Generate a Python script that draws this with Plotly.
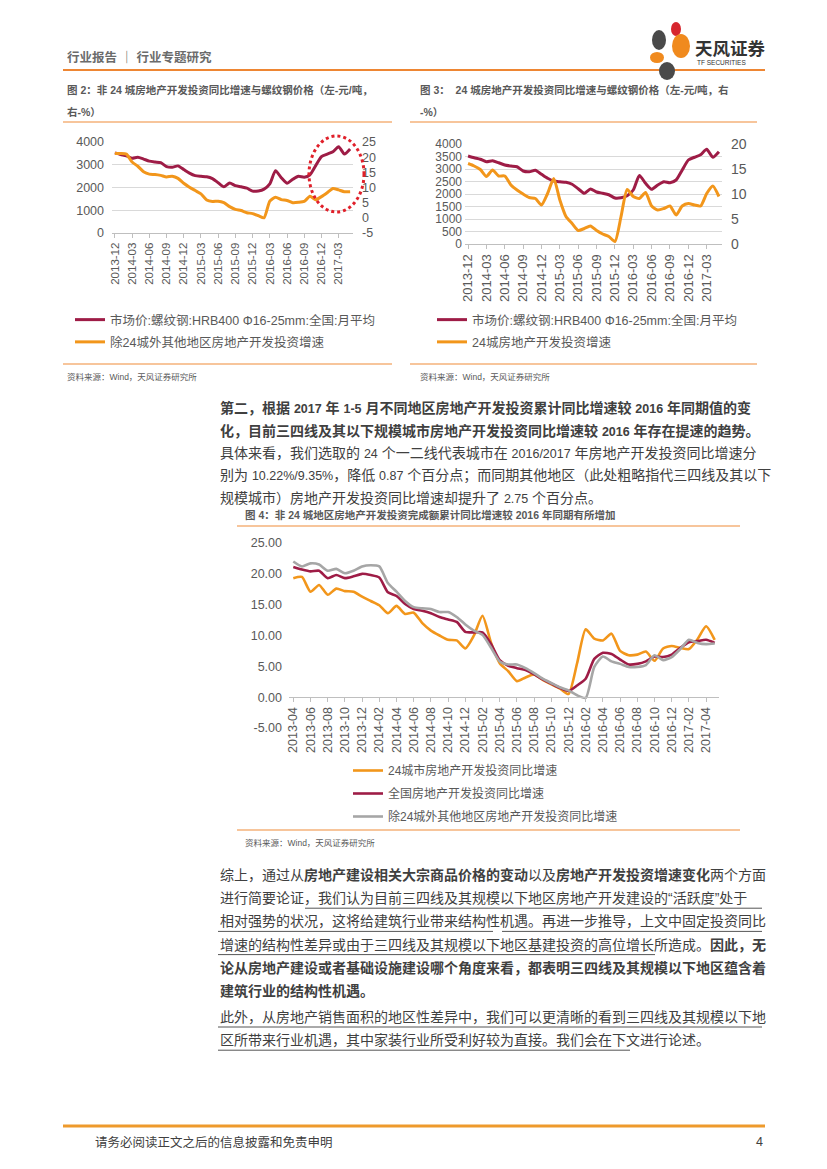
import re
import plotly.graph_objects as go

W, H = 827, 1169
OFF = 8  # the page body margin shifts the figure by 8px
def fx(x): return (x - OFF) / W
def fy(y): return 1 - (y - OFF) / H

# ---------------- data: charts 2 & 3 (monthly 2013-12 .. 2017-05) ----------------
months_a = ['2013-12',
            '2014-01','2014-02','2014-03','2014-04','2014-05','2014-06','2014-07','2014-08','2014-09','2014-10','2014-11','2014-12',
            '2015-01','2015-02','2015-03','2015-04','2015-05','2015-06','2015-07','2015-08','2015-09','2015-10','2015-11','2015-12',
            '2016-01','2016-02','2016-03','2016-04','2016-05','2016-06','2016-07','2016-08','2016-09','2016-10','2016-11','2016-12',
            '2017-01','2017-02','2017-03','2017-04','2017-05']
ticks_a = ['2013-12','2014-03','2014-06','2014-09','2014-12','2015-03','2015-06','2015-09',
           '2015-12','2016-03','2016-06','2016-09','2016-12','2017-03']
steel_price = [3520, 3450, 3390, 3290, 3330, 3250, 3160, 3120, 3090, 2920, 2890, 2950, 2790,
               2630, 2520, 2490, 2470, 2390, 2210, 2030, 2200, 2080, 2030, 1970, 1840,
               1850, 1930, 2160, 2740, 2430, 2190, 2360, 2490, 2450, 2560, 2960, 3360,
               3470, 3570, 3790, 3470, 3690]
other_growth_a = [21.2, 21.2, 21.0, 18.4, 17.0, 15.2, 14.4, 14.3, 14.0, 13.5, 13.7, 13.0, 11.4,
                  10.1, 9.0, 7.9, 5.9, 5.4, 5.5, 5.0, 3.7, 2.8, 2.4, 1.7, 1.4,
                  0.7, 0.0, 5.5, 6.8, 6.0, 5.7, 5.0, 5.1, 5.4, 7.1, 6.0, 7.0,
                  8.3, 9.7, 9.2, 8.6, 8.6]
city24_growth_a = [16.1, 15.6, 14.9, 13.5, 14.8, 13.6, 13.6, 11.8, 10.8, 10.0, 9.3, 9.1, 7.8,
                   10.1, 13.1, 8.8, 5.5, 4.1, 2.7, 3.1, 3.6, 2.7, 2.0, 1.5, 0.5,
                   5.5, 10.9, 9.5, 9.1, 10.3, 7.6, 6.8, 7.1, 7.6, 5.8, 7.6, 8.1,
                   7.8, 7.6, 10.1, 11.6, 9.5]

# ---------------- data: chart 4 (monthly 2013-04 .. 2017-05) ----------------
months_b = ['2013-04','2013-05','2013-06','2013-07','2013-08','2013-09','2013-10','2013-11','2013-12',
            '2014-01','2014-02','2014-03','2014-04','2014-05','2014-06','2014-07','2014-08','2014-09','2014-10','2014-11','2014-12',
            '2015-01','2015-02','2015-03','2015-04','2015-05','2015-06','2015-07','2015-08','2015-09','2015-10','2015-11','2015-12',
            '2016-01','2016-02','2016-03','2016-04','2016-05','2016-06','2016-07','2016-08','2016-09','2016-10','2016-11','2016-12',
            '2017-01','2017-02','2017-03','2017-04','2017-05']
ticks_b = ['2013-04','2013-06','2013-08','2013-10','2013-12','2014-02','2014-04','2014-06','2014-08',
           '2014-10','2014-12','2015-02','2015-04','2015-06','2015-08','2015-10','2015-12','2016-02',
           '2016-04','2016-06','2016-08','2016-10','2016-12','2017-02','2017-04']
city24_growth_b = [19.3, 19.5, 17.1, 18.2, 16.6, 17.6, 17.2, 17.1, 16.3,
                   15.6, 14.9, 13.6, 14.8, 13.5, 13.7, 12.0, 10.8, 10.0, 9.3, 9.2, 7.9,
                   10.0, 13.2, 8.8, 5.5, 4.2, 2.6, 3.2, 3.7, 2.8, 2.1, 1.4, 0.5,
                   5.5, 11.0, 9.5, 9.2, 10.3, 7.5, 6.8, 6.9, 7.4, 5.9, 7.9, 8.3,
                   8.0, 7.8, 9.4, 11.5, 9.3]
national_growth = [21.1, 20.7, 20.4, 20.5, 19.3, 19.8, 19.3, 19.6, 20.0,
                   19.8, 19.4, 17.0, 16.4, 15.1, 14.3, 14.0, 13.6, 13.0, 12.6, 12.2, 10.6,
                   10.5, 10.5, 8.6, 6.0, 5.1, 4.7, 4.4, 3.7, 2.9, 2.2, 1.5, 1.0,
                   1.9, 3.0, 6.2, 7.2, 7.0, 6.1, 5.3, 5.4, 5.8, 6.6, 6.5, 6.9,
                   8.0, 8.9, 9.1, 9.3, 8.8]
other_growth_b = [22.0, 21.2, 21.7, 21.5, 20.5, 20.8, 20.1, 20.5, 21.2,
                  21.4, 21.2, 18.5, 17.1, 15.6, 14.6, 14.4, 14.3, 13.8, 13.8, 13.0, 11.8,
                  10.8, 10.1, 8.0, 5.8, 5.3, 5.3, 4.7, 3.9, 3.0, 2.3, 1.6, 1.1,
                  0.3, -0.1, 4.9, 6.6, 5.8, 5.4, 4.9, 4.9, 5.2, 6.8, 6.0, 6.5,
                  7.8, 9.3, 8.8, 8.6, 8.7]

name_steel = '市场价:螺纹钢:HRB400 Φ16-25mm:全国:月平均'
name_other_a = '除24城外其他地区房地产开发投资增速'
name_city24_a = '24城房地产开发投资增速'
name_city24_b = '24城市房地产开发投资同比增速'
name_national = '全国房地产开发投资同比增速'
name_other_b = '除24城外其他地区房地产开发投资同比增速'

MAROON = '#9E1C46'
ORANGE = '#F2961B'
GRAYL = '#A6A6A6'
TXT = '#595959'
LORANGE = '#F5B27A'
NUM_FONT = 'Liberation Sans, Arial, sans-serif'
CJK = 'Liberation Sans, Noto Sans CJK SC, sans-serif'

fig = go.Figure()
def line(xs, ys, name, color, width, xa, ya, lg, grp):
    fig.add_trace(go.Scatter(x=xs, y=ys, name=name, mode='lines', legendgroup=grp,
                             line=dict(color=color, width=width, shape='spline', smoothing=0.6),
                             xaxis=xa, yaxis=ya, legend=lg))

line(months_a, steel_price, name_steel, MAROON, 3, 'x', 'y', 'legend', 'a1')
line(months_a, other_growth_a, name_other_a, ORANGE, 3, 'x', 'y2', 'legend', 'a2')
line(months_a, steel_price, name_steel, MAROON, 3, 'x2', 'y3', 'legend2', 'b1')
line(months_a, city24_growth_a, name_city24_a, ORANGE, 3, 'x2', 'y4', 'legend2', 'b2')
line(months_b, city24_growth_b, name_city24_b, ORANGE, 2.6, 'x3', 'y5', 'legend3', 'c1')
line(months_b, national_growth, name_national, MAROON, 2.6, 'x3', 'y5', 'legend3', 'c2')
line(months_b, other_growth_b, name_other_b, GRAYL, 2.6, 'x3', 'y5', 'legend3', 'c3')

def xax(domain, ticks, n, size, **kw):
    d = dict(domain=domain, type='category', range=[-0.5, n - 0.5], tickmode='array',
             tickvals=ticks, ticktext=ticks, tickangle=-90, ticks='outside', ticklen=4,
             tickcolor='#BFBFBF', showline=True, linecolor='#BFBFBF', linewidth=1,
             showgrid=False, zeroline=False, automargin=False,
             tickfont=dict(family=NUM_FONT, size=size, color=TXT))
    d.update(kw)
    return d

def yax(domain, rng, vals, texts, size, grid, **kw):
    d = dict(domain=domain, range=rng, tickmode='array', tickvals=vals, ticktext=texts,
             showgrid=grid, gridcolor='#D9D9D9', gridwidth=1, zeroline=False, showline=False,
             ticks='', automargin=False, tickfont=dict(family=NUM_FONT, size=size, color=TXT))
    d.update(kw)
    return d

def leg(x, y, size, gap):
    return dict(x=fx(x), y=fy(y), xanchor='left', yanchor='top', bgcolor='rgba(0,0,0,0)',
                font=dict(family=CJK, size=size, color=TXT), itemwidth=30, tracegroupgap=gap,
                traceorder='grouped')

layout = dict(
    width=W, height=H, margin=dict(l=0, r=0, t=0, b=0),
    paper_bgcolor='white', plot_bgcolor='rgba(0,0,0,0)',
    xaxis=xax([fx(112), fx(353)], ticks_a, len(months_a), 11.5, anchor='y'),
    yaxis=yax([fy(233), fy(142)], [0, 4000], [0, 1000, 2000, 3000, 4000],
              ['0', '1000', '2000', '3000', '4000'], 12.5, True, anchor='x', ticklabelstandoff=7),
    yaxis2=yax([fy(233), fy(142)], [-5, 25], [-5, 0, 5, 10, 15, 20, 25],
               ['-5', '0', '5', '10', '15', '20', '25'], 12.5, False,
               anchor='x', overlaying='y', side='right', ticklabelstandoff=8),
    xaxis2=xax([fx(465), fx(722)], ticks_a, len(months_a), 13, anchor='y3'),
    yaxis3=yax([fy(244), fy(144)], [0, 4000], [0, 500, 1000, 1500, 2000, 2500, 3000, 3500, 4000],
               ['0', '500', '1000', '1500', '2000', '2500', '3000', '3500', '4000'], 12, True,
               anchor='x2', ticklabelstandoff=2),
    yaxis4=yax([fy(244), fy(144)], [0, 20], [0, 5, 10, 15, 20], ['0', '5', '10', '15', '20'], 14, False,
               anchor='x2', overlaying='y3', side='right', ticklabelstandoff=8),
    xaxis3=xax([fx(289), fx(719)], ticks_b, len(months_b), 12.5, anchor='free', position=fy(697)),
    yaxis5=yax([fy(728), fy(543)], [-5, 25], [-5, 0, 5, 10, 15, 20, 25],
               ['-5.00', '0.00', '5.00', '10.00', '15.00', '20.00', '25.00'], 12.5, False,
               anchor='x3', ticklabelstandoff=6),
    legend=leg(70, 305, 12.5, 3),
    legend2=leg(432, 305, 12.5, 3),
    legend3=leg(348, 756, 12, 4),
)
fig.update_layout(**layout)

shapes = []
ann = []

def hline(x0, x1, y, color, width):
    shapes.append(dict(type='line', xref='paper', yref='paper', x0=fx(x0), x1=fx(x1),
                       y0=fy(y), y1=fy(y), line=dict(color=color, width=width), layer='above'))

def text(x, y, s, size, color='#404040', anchor='left', family=CJK):
    ann.append(dict(xref='paper', yref='paper', x=fx(x), y=fy(y), text=s, showarrow=False,
                    xanchor=anchor, yanchor='middle', align=anchor,
                    font=dict(family=family, size=size, color=color)))

def small_latin(s, size):
    return re.sub(r'([0-9][0-9.%/\-]*)', r'<span style="font-size:%spx">\1</span>' % size, s)

# header
text(65, 57, '<b>行业报告 ｜ 行业专题研究</b>', 12.5, '#6b6b6b')
hline(63, 765, 70, '#EE8633', 2)
# logo
for (x0, y0, x1, y1, c) in [(652, 30, 666, 50, '#4a4a4a'), (671, 22, 681, 36, '#D6262E'),
                            (672, 34, 690, 58, '#F08A1E'), (650, 52, 664, 63, '#F08A1E'),
                            (659, 62, 675, 80, '#4a4a4a')]:
    shapes.append(dict(type='circle', xref='paper', yref='paper', x0=fx(x0), x1=fx(x1),
                       y0=fy(y1), y1=fy(y0), fillcolor=c, line=dict(width=0)))
text(693, 47, '<b>天风证券</b>', 17.5, '#333333', family='Noto Sans CJK SC')
text(695, 63, 'TF SECURITIES', 6.5, '#333333', family='Liberation Sans')

# chart 2 frame
text(65, 90, '<b>图 2：非 24 城房地产开发投资同比增速与螺纹钢价格（左-元/吨，</b>', 10.5, TXT)
text(65, 112, '<b>右-%）</b>', 10.5, TXT)
hline(63, 392, 122, LORANGE, 1.5)
hline(63, 392, 364, LORANGE, 1.5)
text(65, 377, '资料来源：Wind，天风证券研究所', 8.5, TXT)
shapes.append(dict(type='circle', xref='paper', yref='paper', x0=fx(309), x1=fx(364),
                   y0=fy(212), y1=fy(136), line=dict(color='#E0202A', width=3, dash='dot')))

# chart 3 frame
text(418, 90, '<b>图 3：  24 城房地产开发投资同比增速与螺纹钢价格（左-元/吨，右</b>', 10.5, TXT)
text(418, 112, '<b>-%）</b>', 10.5, TXT)
hline(410, 757, 122, LORANGE, 1.5)
hline(410, 757, 364, LORANGE, 1.5)
text(418, 377, '资料来源：Wind，天风证券研究所', 8.5, TXT)

# paragraph 1
p1 = ['<b>第二，根据 2017 年 1-5 月不同地区房地产开发投资累计同比增速较 2016 年同期值的变</b>',
      '<b>化，目前三四线及其以下规模城市房地产开发投资同比增速较 2016 年存在提速的趋势。</b>',
      '具体来看，我们选取的 24 个一二线代表城市在 2016/2017 年房地产开发投资同比增速分',
      '别为 10.22%/9.35%，降低 0.87 个百分点；而同期其他地区（此处粗略指代三四线及其以下',
      '规模城市）房地产开发投资同比增速却提升了 2.75 个百分点。']
for i, s in enumerate(p1):
    text(218, 408 + i * 22.6, small_latin(s, 12.5), 14)

# chart 4 frame
text(243, 515, '<b>图 4：非 24 城地区房地产开发投资完成额累计同比增速较 2016 年同期有所增加</b>', 10.5, TXT)
hline(237, 740, 526, LORANGE, 1.5)
hline(237, 740, 830, LORANGE, 1.5)
text(243, 843, '资料来源：Wind，天风证券研究所', 8.5, TXT)

# paragraph 2 & 3
p2 = ['综上，通过从<b>房地产建设相关大宗商品价格的变动</b>以及<b>房地产开发投资增速变化</b>两个方面',
      '进行简要论证，我们认为目前三四线及其规模以下地区房地产开发建设的“活跃度”处于',
      '相对强势的状况，这将给建筑行业带来结构性机遇。再进一步推导，上文中固定投资同比',
      '增速的结构性差异或由于三四线及其规模以下地区基建投资的高位增长所造成。<b>因此，无</b>',
      '<b>论从房地产建设或者基础设施建设哪个角度来看，都表明三四线及其规模以下地区蕴含着</b>',
      '<b>建筑行业的结构性机遇。</b>']
for i, s in enumerate(p2):
    text(218, 875 + i * 23.2, s, 14)
p3 = ['此外，从房地产销售面积的地区性差异中，我们可以更清晰的看到三四线及其规模以下地',
      '区所带来行业机遇，其中家装行业所受利好较为直接。我们会在下文进行论述。']
for i, s in enumerate(p3):
    text(218, 1017 + i * 23.2, s, 14)
# underlines
for (x0, x1, y) in [(305, 762, 898.2 + 10), (218, 493, 921.4 + 10), (502, 762, 921.4 + 10),
                    (218, 655, 944.6 + 10), (218, 762, 1017 + 10), (218, 630, 1040.2 + 10)]:
    hline(x0, x1, y, '#555555', 1)

# footer rule and text
hline(63, 765, 1126, '#EE9A2C', 3)
text(93, 1142, '请务必阅读正文之后的信息披露和免责申明', 12.5, '#404040')
text(765, 1142, '4', 12.5, '#404040', anchor='right')

fig.update_layout(shapes=shapes, annotations=ann)
fig.write_html('out.html')
